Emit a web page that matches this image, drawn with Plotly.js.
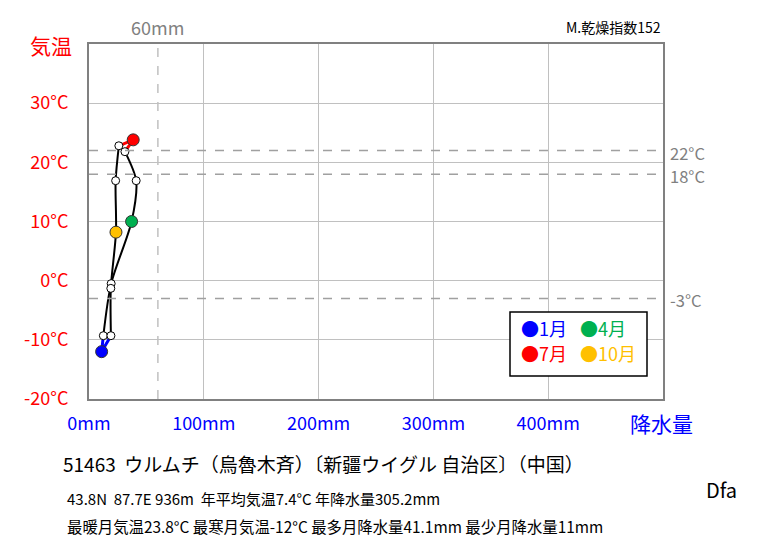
<!DOCTYPE html>
<html>
<head>
<meta charset="utf-8">
<script src="https://cdn.plot.ly/plotly-3.0.1.min.js"></script>
<style>html,body{margin:0;padding:0;background:#fff;}#chart{width:763px;height:545px;}</style>
</head>
<body>
<div id="chart"></div>
<script>
// ---- data ----
var months = ['1月','2月','3月','4月','5月','6月','7月','8月','9月','10月','11月','12月'];
var precip = [11.0, 12.5, 19.3, 37.1, 41.1, 31.3, 38.5, 26.0, 23.2, 23.5, 19.0, 19.1];
var temp   = [-12.0, -9.3, -0.5, 10.0, 16.9, 21.8, 23.8, 22.8, 16.9, 8.2, -1.3, -9.3];
var xTickVals = [0, 100, 200, 300, 400];
var xTickText = ['0mm', '100mm', '200mm', '300mm', '400mm'];
var yTickVals = [-20, -10, 0, 10, 20, 30];
var yTickText = ['-20°C', '-10°C', '0°C', '10°C', '20°C', '30°C'];
var refTemps = [22, 18, -3];
var refTempLabels = ['22°C', '18°C', '-3°C'];
var refPrecip = 60;
var refPrecipLabel = '60mm';
var keyMonths = [0, 3, 6, 9];
var keyColors = ['#0000FF', '#00B050', '#FF0000', '#FFC000'];
var stationLine = '51463\u00a0\u00a0ウルムチ（烏魯木斉）〔新疆ウイグル 自治区〕（中国）';
var infoLine1 = '43.8N\u00a0\u00a087.7E 936m\u00a0\u00a0年平均気温7.4°C 年降水量305.2mm';
var infoLine2 = '最暖月気温23.8°C 最寒月気温-12°C 最多月降水量41.1mm 最少月降水量11mm';
var climateCode = 'Dfa';
var dryIndex = 'M.乾燥指数152';

function pick(arr, idx) { return idx.map(function (i) { return arr[i]; }); }

var JP = '"Noto Sans CJK JP", "DejaVu Sans", sans-serif';
var traces = [];
// black smooth segments
[[1,2,3,4,5],[7,8,9,10,11]].forEach(function (idx) {
  traces.push({x: pick(precip, idx), y: pick(temp, idx), mode: 'lines', type: 'scatter',
    line: {color: '#000', width: 2, shape: 'spline', smoothing: 0.8}, hoverinfo: 'skip', showlegend: false});
});
// coloured segments around Jan and Jul
traces.push({x: pick(precip, [11,0,1]), y: pick(temp, [11,0,1]), mode: 'lines', type: 'scatter',
  line: {color: '#0000FF', width: 3}, showlegend: false});
traces.push({x: pick(precip, [5,6,7]), y: pick(temp, [5,6,7]), mode: 'lines', type: 'scatter',
  line: {color: '#FF0000', width: 3}, showlegend: false});
// white markers
var others = [1,2,4,5,7,8,10,11];
traces.push({x: pick(precip, others), y: pick(temp, others), text: pick(months, others), mode: 'markers', type: 'scatter',
  marker: {color: '#fff', size: 8, line: {color: '#000', width: 1}}, showlegend: false});
// coloured markers
traces.push({x: pick(precip, keyMonths), y: pick(temp, keyMonths), text: pick(months, keyMonths), mode: 'markers', type: 'scatter',
  marker: {color: keyColors, size: 12, line: {color: '#333', width: 1}}, showlegend: false});

var L = 89, R = 663, T = 44, B = 399;
function px(x) { return (x - L) / (R - L); }
function py(y) { return (B - y) / (B - T); }

var shapes = [];
refTemps.forEach(function (t) {
  shapes.push({type: 'line', xref: 'paper', yref: 'y', x0: 0, x1: 1, y0: t, y1: t,
    line: {color: '#A0A0A0', width: 1.5, dash: 'dash'}});
});
shapes.push({type: 'line', xref: 'x', yref: 'paper', x0: refPrecip, x1: refPrecip, y0: 0, y1: 1,
  line: {color: '#C0C0C0', width: 1.5, dash: 'dash'}});
// legend box
shapes.push({type: 'rect', xref: 'paper', yref: 'paper', x0: px(510), x1: px(647), y0: py(376), y1: py(312),
  line: {color: '#000', width: 1.5}, fillcolor: '#fff', layer: 'above'});

var annotations = [];
refTemps.forEach(function (t, i) {
  annotations.push({xref: 'paper', yref: 'y', x: px(668), y: t, yshift: -2, text: refTempLabels[i], showarrow: false,
    xanchor: 'left', yanchor: 'middle', font: {family: JP, size: 16.5, color: '#808080'}});
});
annotations.push({xref: 'x', yref: 'paper', x: refPrecip, y: py(27), text: refPrecipLabel, showarrow: false,
  xanchor: 'center', yanchor: 'middle', font: {family: JP, size: 18, color: '#808080'}});
annotations.push({xref: 'paper', yref: 'paper', x: 1, y: py(27), text: dryIndex, showarrow: false,
  xanchor: 'right', yanchor: 'middle', font: {family: JP, size: 14, color: '#000'}});
annotations.push({xref: 'paper', yref: 'paper', x: px(51), y: py(45), text: '気温', showarrow: false,
  xanchor: 'center', yanchor: 'middle', font: {family: JP, size: 21, color: '#FF0000'}});
annotations.push({xref: 'paper', yref: 'paper', x: px(661), y: py(423), text: '降水量', showarrow: false,
  xanchor: 'center', yanchor: 'middle', font: {family: JP, size: 21, color: '#0000FF'}});
annotations.push({xref: 'paper', yref: 'paper', x: px(61), y: py(463), text: stationLine, showarrow: false,
  xanchor: 'left', yanchor: 'middle', font: {family: JP, size: 19, color: '#000'}});
annotations.push({xref: 'paper', yref: 'paper', x: px(65), y: py(498), text: infoLine1, showarrow: false,
  xanchor: 'left', yanchor: 'middle', font: {family: JP, size: 15, color: '#000'}});
annotations.push({xref: 'paper', yref: 'paper', x: px(65), y: py(526), text: infoLine2, showarrow: false,
  xanchor: 'left', yanchor: 'middle', font: {family: JP, size: 15.4, color: '#000'}});
annotations.push({xref: 'paper', yref: 'paper', x: px(704), y: py(489), text: climateCode, showarrow: false,
  xanchor: 'left', yanchor: 'middle', font: {family: JP, size: 20, color: '#000'}});
// legend entries
var legPos = [[519, 328], [578, 328], [519, 353], [578, 353]];
keyMonths.forEach(function (m, i) {
  annotations.push({xref: 'paper', yref: 'paper', x: px(legPos[i][0]), y: py(legPos[i][1]),
    text: '●' + months[m], showarrow: false, xanchor: 'left', yanchor: 'middle',
    font: {family: JP, size: 18, color: keyColors[i]}});
});

var layout = {
  width: 763, height: 545,
  margin: {l: L, r: 763 - R, t: T, b: 545 - B, pad: 0},
  paper_bgcolor: '#fff', plot_bgcolor: '#fff',
  showlegend: false,
  xaxis: {range: [0, 500], tickvals: xTickVals, ticktext: xTickText, showgrid: true, gridcolor: '#C0C0C0', gridwidth: 1,
    zeroline: false, showline: true, mirror: true, linecolor: '#808080', linewidth: 2, ticks: '',
    ticklabelstandoff: 7, tickfont: {family: JP, size: 18, color: '#0000FF'}, fixedrange: true},
  yaxis: {range: [-20, 40], tickvals: yTickVals, ticktext: yTickText, showgrid: true, gridcolor: '#C0C0C0', gridwidth: 1,
    zeroline: false, showline: true, mirror: true, linecolor: '#808080', linewidth: 2, ticks: '',
    ticklabelstandoff: 15, tickfont: {family: JP, size: 18, color: '#FF0000'}, fixedrange: true},
  shapes: shapes,
  annotations: annotations
};

Plotly.newPlot('chart', traces, layout, {displayModeBar: false, staticPlot: true});
</script>
</body>
</html>
